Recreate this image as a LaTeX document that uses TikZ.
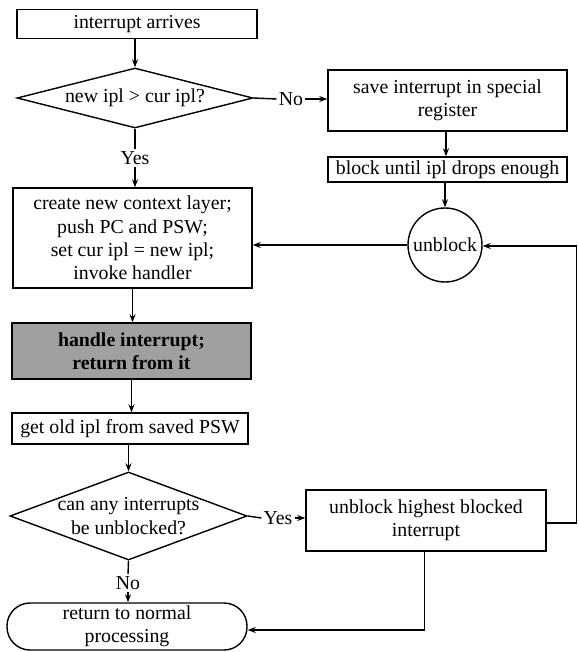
\documentclass[tikz,border=0pt]{standalone}
\usepackage{fontspec}
\setmainfont{Liberation Serif}
\usetikzlibrary{shapes.geometric,arrows.meta}
\begin{document}
\begin{tikzpicture}[x=1pt,y=-1pt, line width=1.4pt,
  every node/.style={font=\fontsize{19.8}{23.3}\selectfont, align=center, inner sep=0pt},
  box/.style={draw, rectangle},
  lbl/.style={inner sep=1.5pt},
  arr/.style={-{Stealth[length=8pt,width=6pt]}}]
\useasboundingbox (0,0) rectangle (578,652);

% left column
\node[box, minimum width=240pt, minimum height=29pt] (start) at (137,24) {interrupt arrives};
\node[draw, diamond, minimum width=236pt, minimum height=60pt] (d1) at (135,98) {};
\node at (d1) {new ipl > cur ipl?};
\node[box, minimum width=239pt, minimum height=100pt] (create) at (132.5,238)
  {create new context layer;\\push PC and PSW;\\set cur ipl = new ipl;\\invoke handler};
\node[box, fill={rgb,255:red,160;green,160;blue,160}, minimum width=239pt, minimum height=56pt] (handle) at (131.5,351)
  {\bfseries handle interrupt;\\\bfseries return from it};
\node[box, minimum width=236pt, minimum height=31pt] (getold) at (130,428.5) {get old ipl from saved PSW};
\node[draw, diamond, minimum width=237pt, minimum height=88pt] (d2) at (128.5,516) {};
\node at (d2) {can any interrupts\\be unblocked?};
\node[draw, rectangle, rounded corners=23pt, minimum width=240pt, minimum height=47pt] (ret) at (127,626.5)
  {return to normal\\processing};

% right column
\node[box, minimum width=239pt, minimum height=61pt] (save) at (447.5,100.5) {save interrupt in special\\register};
\node[box, minimum width=239pt, minimum height=25pt] (block) at (447.5,169.5) {block until ipl drops enough};
\node[draw, circle, minimum size=74pt] (ub) at (445,245) {unblock};
\node[box, minimum width=240pt, minimum height=61pt] (ubh) at (426,520.5) {unblock highest blocked\\interrupt};

% labels
\node[lbl] (no1) at (291,99) {No};
\node[lbl] (yes1) at (135,158) {Yes};
\node[lbl] (yes2) at (278,518) {Yes};
\node[lbl] (no2) at (128,583) {No};

% connectors
\draw[arr] (start.south -| d1.north) -- (d1.north);
\draw (d1.east) -- (no1.west);
\draw[arr] (no1.east) -- (no1.east -| save.west);
\draw (d1.south) -- (yes1.north);
\draw[arr] (yes1.south) -- (yes1.south |- create.north);
\draw[arr] (save.south -| block.north) ++(-1.5pt,0) -- ([xshift=-1.5pt]block.north);
\draw[arr] (ub.north |- block.south) -- (ub.north);
\draw[arr] (ub.west) -- (ub.west -| create.east);
\draw[arr] (create.south) -- (create.south |- handle.north);
\draw[arr] (handle.south) -- (handle.south |- getold.north);
\draw[arr] (getold.south -| d2.north) -- (d2.north);
\draw (d2.east) -- (yes2.west);
\draw[arr] (yes2.east) -- (yes2.east -| ubh.west);
\draw (d2.south) -- (no2.north);
\draw[arr] (no2.south) -- (no2.south |- ret.north);
\draw[arr] ([xshift=-1.5pt]ubh.south) |- ([yshift=-3.5pt]ret.east);
\draw[arr] ([yshift=-2.5pt]ubh.east) -- ++(30,0) |- ([yshift=-1pt]ub.east);
\end{tikzpicture}
\end{document}
